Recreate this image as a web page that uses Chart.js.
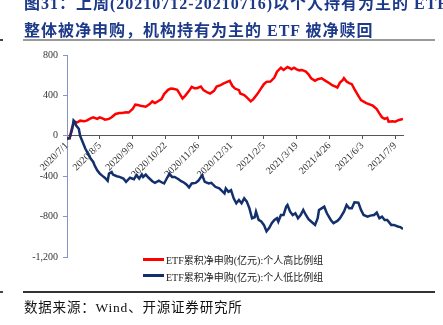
<!DOCTYPE html>
<html>
<head>
<meta charset="utf-8">
<script src="https://cdn.jsdelivr.net/npm/chart.js@4.4.0/dist/chart.umd.min.js"></script>
<style>
  html, body { margin:0; padding:0; background:#fff; width:443px; height:325px; overflow:hidden; }
  #wrap { position:relative; width:443px; height:325px; overflow:hidden; }
  canvas { position:absolute; left:0; top:0; }
  .title { position:absolute; left:24px; font-family:"Liberation Serif","Noto Sans CJK SC",serif; font-weight:bold; font-size:16px; color:#1d3a8a; white-space:nowrap; letter-spacing:1px; }
  .rule { position:absolute; }
  .src { position:absolute; left:24px; top:296px; font-family:"Liberation Serif","Noto Sans CJK SC",serif; font-size:13.5px; color:#111; white-space:nowrap; letter-spacing:0.8px; }
  .leg { position:absolute; font-family:"Liberation Serif","Noto Sans CJK SC",serif; font-size:10px; color:#222; white-space:nowrap; }
  .legline { position:absolute; height:3px; width:21px; left:143px; }
</style>
</head>
<body>
<div id="wrap">
  <canvas id="c" width="443" height="325"></canvas>
  <div class="title" style="top:-10px;">图31：上周(20210712-20210716)以个人持有为主的 ETF</div>
  <div class="title" style="top:17px;">整体被净申购，机构持有为主的 ETF 被净赎回</div>
  <div class="rule" style="left:23px; top:39px; width:412px; height:2px; background:#9a9a9a;"></div>
  <div class="rule" style="left:0px; top:39px; width:3px; height:2px; background:#444;"></div>
  <div class="legline" style="top:258px; background:#ff0000;"></div>
  <div class="leg" style="left:166px; top:252px;">ETF累积净申购(亿元):个人高比例组</div>
  <div class="legline" style="top:274px; background:#13306c;"></div>
  <div class="leg" style="left:166px; top:269px;">ETF累积净申购(亿元):个人低比例组</div>
  <div class="rule" style="left:23px; top:291px; width:412px; height:1.5px; background:#333;"></div>
  <div class="rule" style="left:0px; top:291px; width:3px; height:1.5px; background:#444;"></div>
  <div class="src">数据来源：Wind、开源证券研究所</div>
</div>
<script>
// Tick labels (trading-day index -> date label)
const tickDays = [0, 25, 50, 75, 100, 125, 150, 175, 200, 225, 250];
const tickLabels = ["2020/7/1","2020/8/5","2020/9/9","2020/10/22","2020/11/26","2020/12/31","2021/2/5","2021/3/19","2021/4/26","2021/6/3","2021/7/9"];

// Series 1: individual-high group (red)
const redDay = [0,2,4,6,8,10,13,15,18,20,23,25,27,29,32,34,37,40,42,45,47,50,52,54,56,60,63,65,67,70,72,74,77,79,81,84,86,88,90,93,95,97,99,102,104,107,109,112,114,117,119,122,124,126,128,131,132,135,137,140,142,145,147,150,152,155,158,160,163,165,168,170,171,173,175,177,179,182,184,186,189,191,194,197,200,202,205,206,208,210,211,213,215,217,219,222,224,228,230,233,236,238,240,242,244,245,248,250,253,256];
const redVal = [-25,-24,91,134,134,150,144,150,173,183,167,183,173,160,167,183,216,226,226,232,230,265,308,304,298,288,314,341,324,347,363,413,455,468,465,455,413,370,396,445,485,472,472,488,452,429,419,445,488,501,517,534,544,494,468,452,419,403,380,341,363,413,452,511,534,537,576,635,674,652,681,668,658,674,658,648,652,635,609,570,544,560,570,544,521,501,485,478,527,550,570,537,521,511,462,396,354,324,314,298,265,222,183,167,177,140,144,140,157,167];

// Series 2: individual-low group (navy)
const blueDay = [0,2,4,5,6,7,9,10,12,14,16,18,20,21,23,25,27,29,31,32,34,35,38,40,43,45,48,51,53,55,57,58,60,62,65,67,70,72,74,76,78,80,82,85,87,89,91,93,95,98,100,103,105,108,110,113,116,118,120,121,123,125,127,129,131,133,135,137,139,141,143,144,146,148,150,152,154,156,158,160,161,163,165,167,168,170,172,174,176,178,180,182,184,186,189,191,192,194,196,198,201,203,206,208,211,213,215,217,219,222,224,226,229,231,234,236,238,240,242,244,247,249,252,254,256];
const blueVal = [-29,-24,69,153,140,101,69,0,-63,-128,-177,-226,-259,-292,-341,-374,-397,-417,-446,-374,-358,-384,-400,-407,-423,-455,-415,-430,-390,-423,-382,-407,-384,-413,-450,-466,-445,-460,-472,-423,-375,-407,-407,-430,-450,-462,-482,-511,-472,-466,-446,-390,-456,-472,-466,-505,-521,-545,-570,-521,-554,-538,-619,-668,-636,-668,-619,-652,-718,-816,-806,-751,-833,-849,-882,-945,-914,-865,-833,-816,-849,-784,-784,-702,-685,-751,-784,-767,-816,-784,-734,-784,-826,-849,-882,-816,-734,-718,-702,-767,-833,-865,-843,-816,-751,-685,-718,-718,-659,-662,-734,-784,-800,-790,-784,-761,-816,-800,-833,-833,-882,-882,-898,-904,-924];

const seriesNames = ["ETF累积净申购(亿元):个人高比例组", "ETF累积净申购(亿元):个人低比例组"];
const yTicks = [800, 400, 0, -400, -800, -1200];

const toPts = (xs, ys) => xs.map((d, i) => ({ x: d, y: ys[i] }));

new Chart(document.getElementById('c'), {
  type: 'line',
  data: {
    datasets: [
      { label: seriesNames[0], data: toPts(redDay, redVal), borderColor: '#ff0000', borderWidth: 2.5, pointRadius: 0, tension: 0, order: 2 },
      { label: seriesNames[1], data: toPts(blueDay, blueVal), borderColor: '#13306c', borderWidth: 2.5, pointRadius: 0, tension: 0, order: 1 }
    ]
  },
  options: {
    responsive: false,
    animation: false,
    layout: { padding: { left: 0, right: 40, top: 55, bottom: 68 } },
    plugins: { legend: { display: false }, tooltip: { enabled: false } },
    scales: {
      x: {
        type: 'linear',
        position: { y: 0 },
        min: 0, max: 256,
        afterBuildTicks: s => { s.ticks = tickDays.map(v => ({ value: v })); },
        ticks: {
          autoSkip: false, minRotation: 45, maxRotation: 45, padding: 1,
          color: '#333', font: { family: 'Liberation Serif', size: 10 },
          callback: v => { const i = tickDays.indexOf(v); return i >= 0 ? tickLabels[i] : ''; }
        },
        grid: { display: true, drawOnChartArea: false, drawTicks: true, tickLength: 3, tickColor: '#555' },
        border: { display: true, color: '#555', width: 1 }
      },
      y: {
        min: -1200, max: 800,
        afterBuildTicks: s => { s.ticks = yTicks.map(v => ({ value: v })); },
        afterFit: s => { s.width = 67; },
        ticks: { color: '#333', padding: 5, font: { family: 'Liberation Serif', size: 10 } },
        grid: { display: true, drawOnChartArea: false, drawTicks: true, tickLength: 4, tickColor: '#8496c8' },
        border: { display: true, color: '#8496c8', width: 1 }
      }
    }
  }
});
</script>
</body>
</html>
